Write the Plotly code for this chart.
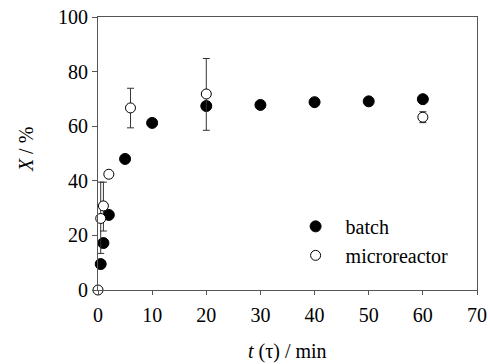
import plotly.graph_objects as go

# Batch data
batch_t = [0.5, 1, 2, 5, 10, 20, 30, 40, 50, 60]
batch_x = [9.5, 17.2, 27.5, 48.0, 61.2, 67.4, 67.8, 68.8, 69.1, 69.9]

# Microreactor data
micro_t = [0, 0.5, 1, 2, 6, 20, 60]
micro_x = [0, 26.2, 30.8, 42.4, 66.7, 71.8, 63.3]
micro_err_plus = [0, 13.3, 8.7, 0, 7.2, 13.0, 2.0]
micro_err_minus = [0, 12.8, 9.2, 0, 7.3, 13.3, 2.0]

x_ticks = [0, 10, 20, 30, 40, 50, 60, 70]
y_ticks = [0, 20, 40, 60, 80, 100]

x_title = "<i>t</i> (τ) / min"
y_title = "<i>X</i> / %"

font_family = "Liberation Serif, Times New Roman, serif"
axis_color = "#555555"
FS = 20

fig = go.Figure()
fig.add_trace(go.Scatter(
    x=batch_t, y=batch_x, mode="markers", name="batch",
    marker=dict(symbol="circle", size=11, color="black", line=dict(color="black", width=1)),
))
fig.add_trace(go.Scatter(
    x=micro_t, y=micro_x, mode="markers", name="microreactor",
    marker=dict(symbol="circle", size=10, color="white", line=dict(color="black", width=1)),
    error_y=dict(type="data", symmetric=False, array=micro_err_plus, arrayminus=micro_err_minus,
                 color="#333333", thickness=1, width=3.5),
))

fig.update_layout(
    width=490, height=364,
    margin=dict(l=98, r=13, t=17, b=74, autoexpand=False),
    paper_bgcolor="white", plot_bgcolor="white",
    font=dict(family=font_family, size=FS, color="black"),
    showlegend=True,
    legend=dict(x=0.495, y=0.18, xanchor="left", yanchor="middle",
                bgcolor="rgba(0,0,0,0)", borderwidth=0, itemwidth=50,
                font=dict(family=font_family, size=FS), tracegroupgap=0),
    xaxis=dict(
        range=[0, 70], tickvals=x_ticks, ticktext=[str(v) for v in x_ticks],
        showline=True, linecolor=axis_color, linewidth=1, mirror=True,
        ticks="outside", ticklen=4, tickcolor=axis_color, showgrid=False, zeroline=False,
        automargin=False, tickfont=dict(size=FS), ticklabelstandoff=3,
    ),
    yaxis=dict(
        range=[0, 100], tickvals=y_ticks, ticktext=[str(v) for v in y_ticks],
        showline=True, linecolor=axis_color, linewidth=1, mirror=True,
        ticks="outside", ticklen=5, tickcolor=axis_color, showgrid=False, zeroline=False,
        automargin=False, tickfont=dict(size=FS),
    ),
    annotations=[
        dict(text=x_title, xref="paper", yref="paper", x=0.5, y=-0.225, xanchor="center",
             yanchor="middle", showarrow=False, font=dict(size=FS)),
        dict(text=y_title, xref="paper", yref="paper", x=-0.19, y=0.516, xanchor="center",
             yanchor="middle", showarrow=False, textangle=-90, font=dict(size=FS)),
    ],
)
fig.update_traces(cliponaxis=False)

fig.write_html("out.html", config={"displayModeBar": False},
               post_script="document.body.style.margin='0';document.body.style.overflow='hidden';")
